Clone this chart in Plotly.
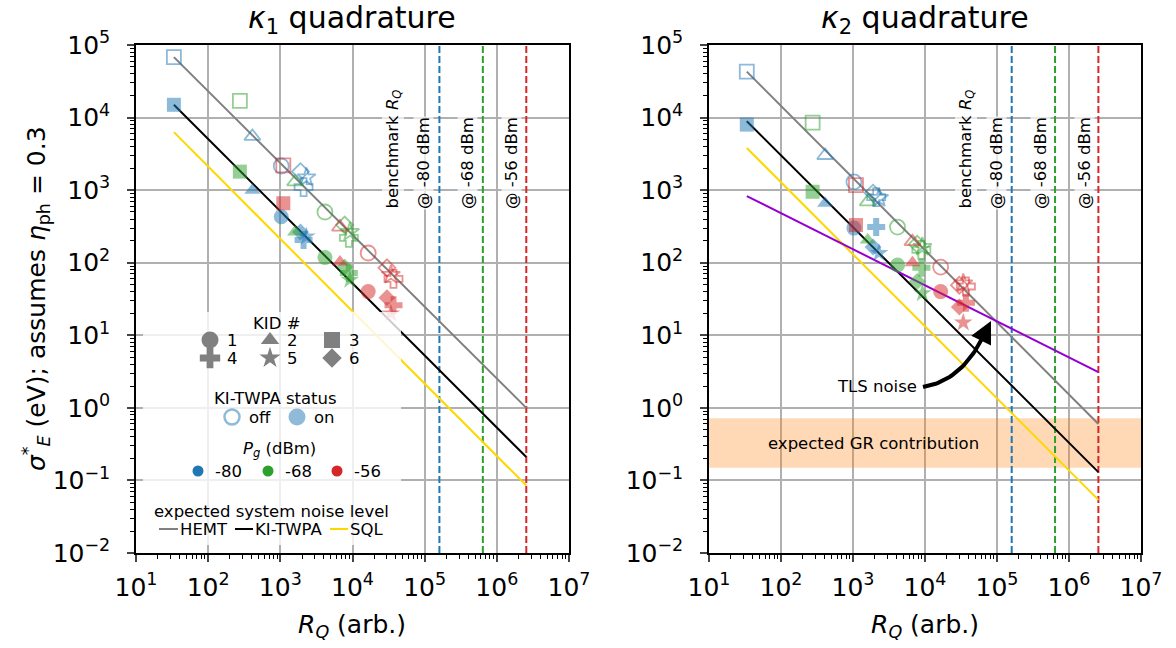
import numpy as np
import plotly.graph_objects as go

W, H = 1176, 648
FONT = "DejaVu Sans"

# ---------------- data ----------------
kid_labels = ["1", "2", "3", "4", "5", "6"]
kid_symbols = ["circle", "triangle-up", "square", "cross", "star", "diamond"]
pg_labels = ["-80", "-68", "-56"]
pg_colors = ["#1f77b4", "#2ca02c", "#d62728"]

# R_Q per KID (1..6) for each generator power
rq_m80 = [1.03e3, 410, 33.5, 2.1e3, 2.3e3, 1.9e3]
rq_m68 = [4.15e3, 1.6e3, 275, 8.9e3, 9.2e3, 7.8e3]
rq_m56 = [1.65e4, 6.7e3, 1.1e3, 3.7e4, 3.4e4, 3.0e4]

# kappa_1 quadrature sigma_E (eV), KID 1..6
k1_off_m80 = [2.15e3, 5.5e3, 6.8e4, 1.1e3, 1.5e3, 1.8e3]
k1_on_m80 = [430, 1.0e3, 1.5e4, 205, 230, 265]
k1_off_m68 = [500, 1.3e3, 1.7e4, 220, 265, 330]
k1_on_m68 = [118, 265, 1.8e3, 72, 58, 87]
k1_off_m56 = [136, 310, 2.2e3, 60, 68, 85]
k1_on_m56 = [40, 102, 660, 26, 20, 33]

# kappa_2 quadrature sigma_E (eV), KID 1..6
k2_off_m80 = [1.3e3, 3.0e3, 4.3e4, 800, 780, 910]
k2_on_m80 = [300, 660, 8.0e3, 310, 136, 165]
k2_off_m68 = [310, 690, 8.5e3, 150, 165, 180]
k2_on_m68 = [93, 205, 950, 85, 38, 55]
k2_off_m56 = [87, 195, 1.17e3, 47, 52, 49]
k2_on_m56 = [40, 100, 330, 28, 15, 24.5]

# expected system noise levels (end points)
line_rq = [33.5, 2.56e6]
k1_hemt = [6.8e4, 1.0]
k1_twpa = [1.5e4, 0.21]
k1_sql = [6.3e3, 0.085]
k2_hemt = [4.3e4, 0.6]
k2_twpa = [8.9e3, 0.13]
k2_sql = [3.8e3, 0.054]
k2_tls = [830, 3.1]

benchmark_rq = [1.6e5, 6.4e5, 2.56e6]
gr_band = [0.15, 0.72]

x_ticks = [1e1, 1e2, 1e3, 1e4, 1e5, 1e6, 1e7]
x_tick_text = ["10<sup>1</sup>", "10<sup>2</sup>", "10<sup>3</sup>", "10<sup>4</sup>",
               "10<sup>5</sup>", "10<sup>6</sup>", "10<sup>7</sup>"]
y_ticks = [1e-2, 1e-1, 1e0, 1e1, 1e2, 1e3, 1e4, 1e5]
y_tick_text = ["10<sup>−2</sup>", "10<sup>−1</sup>", "10<sup>0</sup>", "10<sup>1</sup>",
               "10<sup>2</sup>", "10<sup>3</sup>", "10<sup>4</sup>", "10<sup>5</sup>"]

# ---------------- figure ----------------
fig = go.Figure()

rq_sets = [rq_m80, rq_m68, rq_m56]
panels = [
    ("x", "y", [k1_off_m80, k1_off_m68, k1_off_m56], [k1_on_m80, k1_on_m68, k1_on_m56],
     k1_hemt, k1_twpa, k1_sql),
    ("x2", "y2", [k2_off_m80, k2_off_m68, k2_off_m56], [k2_on_m80, k2_on_m68, k2_on_m56],
     k2_hemt, k2_twpa, k2_sql),
]

marker_sizes = {"circle": 15, "triangle-up": 14, "square": 14, "cross": 15, "star": 14, "diamond": 13}

for xr, yr, offs, ons, hemt, twpa, sql in panels:
    if xr == "x2":
        fig.add_trace(go.Scatter(x=[1e1, 1e7, 1e7, 1e1, 1e1],
                                 y=[gr_band[0], gr_band[0], gr_band[1], gr_band[1], gr_band[0]],
                                 fill="toself", fillcolor="rgba(255,127,14,0.3)", mode="lines",
                                 line=dict(width=0), xaxis=xr, yaxis=yr, showlegend=False,
                                 hoverinfo="skip"))
    for rq_x, c in zip(benchmark_rq, pg_colors):
        fig.add_trace(go.Scatter(x=[rq_x, rq_x], y=[1e-2, 1e5], mode="lines",
                                 line=dict(color=c, width=2, dash="7px,3px"),
                                 xaxis=xr, yaxis=yr, showlegend=False, hoverinfo="skip"))
    for vals, c in [(hemt, "#808080"), (twpa, "black"), (sql, "gold")]:
        fig.add_trace(go.Scatter(x=line_rq, y=vals, mode="lines", line=dict(color=c, width=2),
                                 xaxis=xr, yaxis=yr, showlegend=False))
    if xr == "x2":
        fig.add_trace(go.Scatter(x=line_rq, y=k2_tls, mode="lines",
                                 line=dict(color="darkviolet", width=2),
                                 xaxis=xr, yaxis=yr, showlegend=False))
    for pi, c in enumerate(pg_colors):
        for ki, sym in enumerate(kid_symbols):
            sz = marker_sizes[sym]
            fig.add_trace(go.Scatter(
                x=[rq_sets[pi][ki]], y=[offs[pi][ki]], mode="markers",
                marker=dict(symbol=sym + "-open", size=sz, color=c, line=dict(width=1.8, color=c)),
                opacity=0.5, xaxis=xr, yaxis=yr, showlegend=False))
            fig.add_trace(go.Scatter(
                x=[rq_sets[pi][ki]], y=[ons[pi][ki]], mode="markers",
                marker=dict(symbol=sym, size=sz, color=c, line=dict(width=0)),
                opacity=0.5, xaxis=xr, yaxis=yr, showlegend=False))

# ---------------- overlay (pixel) layer for legend & arrow ----------------
annotations = []

def ptext(x, y, text, size=16.5, xanchor="center", angle=0, yanchor="middle", bg=None):
    d = dict(x=x, y=y, xref="x3", yref="y3", text=text, showarrow=False,
             font=dict(family=FONT, size=size, color="black"), xanchor=xanchor,
             yanchor=yanchor, textangle=angle, borderpad=0)
    if bg:
        d["bgcolor"] = bg
    annotations.append(d)

# legend background box
fig.add_trace(go.Scatter(x=[143, 401, 401, 143, 143], y=[312, 312, 545, 545, 312], fill="toself",
                         fillcolor="rgba(255,255,255,0.8)", mode="lines", line=dict(width=0),
                         xaxis="x3", yaxis="y3", showlegend=False, hoverinfo="skip"))

# KID legend
ptext(276, 323, "KID #")
kid_pos = [(210, 340), (270, 340), (332, 340), (210, 358), (270, 358), (332, 358)]
for (px, py), sym, lab in zip(kid_pos, kid_symbols, kid_labels):
    fig.add_trace(go.Scatter(x=[px], y=[py], mode="markers",
                             marker=dict(symbol=sym, size=marker_sizes[sym] + 2, color="#808080"),
                             xaxis="x3", yaxis="y3", showlegend=False))
    ptext(px + 16, py, lab, xanchor="left")

# status legend
ptext(275, 398, "KI-TWPA status")
fig.add_trace(go.Scatter(x=[232], y=[417], mode="markers",
                         marker=dict(symbol="circle-open", size=15, color="rgba(31,119,180,0.5)",
                                     line=dict(width=2.5, color="rgba(31,119,180,0.5)")),
                         xaxis="x3", yaxis="y3", showlegend=False))
ptext(248, 417, "off", xanchor="left")
fig.add_trace(go.Scatter(x=[297], y=[417], mode="markers",
                         marker=dict(symbol="circle", size=17, color="rgba(31,119,180,0.5)"),
                         xaxis="x3", yaxis="y3", showlegend=False))
ptext(313, 417, "on", xanchor="left")

# Pg legend
ptext(279, 449, "<i>P<sub>g</sub></i> (dBm)")
for px, c, lab in zip([198, 268, 337], pg_colors, pg_labels):
    fig.add_trace(go.Scatter(x=[px], y=[471], mode="markers",
                             marker=dict(symbol="circle", size=11, color=c),
                             xaxis="x3", yaxis="y3", showlegend=False))
    ptext(px + 16, 471, lab, xanchor="left")

# system noise legend
ptext(271, 511, "expected system noise level")
for (x0, x1), c, lab in zip([(159, 178), (235, 253), (330, 348)], ["#808080", "black", "gold"],
                            ["HEMT", "KI-TWPA", "SQL"]):
    fig.add_trace(go.Scatter(x=[x0, x1], y=[529, 529], mode="lines", line=dict(color=c, width=2),
                             xaxis="x3", yaxis="y3", showlegend=False))
    ptext(x1 + 1, 529, lab, xanchor="left")

# TLS curved arrow
t = np.linspace(0, 1, 30)
p0, p1, p2 = np.array([923, 387]), np.array([961, 381]), np.array([983, 337])
curve = ((1 - t) ** 2)[:, None] * p0 + (2 * (1 - t) * t)[:, None] * p1 + (t ** 2)[:, None] * p2
fig.add_trace(go.Scatter(x=curve[:, 0], y=curve[:, 1], mode="lines", line=dict(color="black", width=4),
                         xaxis="x3", yaxis="y3", showlegend=False))
annotations.append(dict(x=991, y=321, xref="x3", yref="y3", ax=982, ay=339, axref="x3", ayref="y3",
                        text="", showarrow=True, arrowhead=2, arrowsize=1.1, arrowwidth=4,
                        arrowcolor="black"))
ptext(877, 386, "TLS noise")
ptext(873, 443, "expected GR contribution")

# benchmark texts (both panels)
for x0 in [0, 573]:
    ptext(393 + x0, 210, "benchmark <i>R<sub>Q</sub></i>", angle=-90, yanchor="bottom",
          bg="rgba(255,255,255,0.7)")
    for dx, lab in zip([423, 467, 511], pg_labels):
        ptext(dx + x0, 210, "@ " + lab + " dBm", angle=-90, yanchor="bottom",
              bg="rgba(255,255,255,0.7)")

# titles & axis titles
ptext(352, 19, "<i>κ</i><sub>1</sub> quadrature", size=30)
ptext(925, 19, "<i>κ</i><sub>2</sub> quadrature", size=30)
ptext(352, 626, "<i>R<sub>Q</sub></i> (arb.)", size=25)
ptext(925, 626, "<i>R<sub>Q</sub></i> (arb.)", size=25)
ptext(36, 299, "<i>σ</i><sup>*</sup><sub><i>E</i></sub> (eV); assumes <i>η</i><sub>ph</sub> = 0.3",
      size=25, angle=-90)

# ---------------- axes ----------------
minor_x = [k * 10.0 ** n for n in range(1, 7) for k in range(2, 10)]
minor_y = [k * 10.0 ** n for n in range(-2, 5) for k in range(2, 10)]

def xax(domain, anchor):
    return dict(type="log", range=[1, 7], domain=domain, anchor=anchor,
                tickvals=x_ticks, ticktext=x_tick_text, ticks="outside", ticklen=7, tickwidth=1.5,
                ticklabelstandoff=4,
                tickfont=dict(family=FONT, size=25, color="black"),
                showgrid=True, gridcolor="#b0b0b0", gridwidth=2, zeroline=False,
                showline=True, linecolor="black", linewidth=1.5, mirror=True,
                minor=dict(tickvals=minor_x, ticks="outside", ticklen=4, tickwidth=1,
                           tickcolor="black", showgrid=False))

def yax(anchor):
    return dict(type="log", range=[-2, 5], domain=[1 - 553 / H, 1 - 45 / H], anchor=anchor,
                tickvals=y_ticks, ticktext=y_tick_text, ticks="outside", ticklen=7, tickwidth=1.5,
                ticklabelstandoff=12,
                tickfont=dict(family=FONT, size=25, color="black"),
                showgrid=True, gridcolor="#b0b0b0", gridwidth=2, zeroline=False,
                showline=True, linecolor="black", linewidth=1.5, mirror=True,
                minor=dict(tickvals=minor_y, ticks="outside", ticklen=4, tickwidth=1,
                           tickcolor="black", showgrid=False))

fig.update_layout(
    width=W, height=H,
    margin=dict(l=0, r=0, t=0, b=0, pad=0, autoexpand=False),
    paper_bgcolor="white", plot_bgcolor="rgba(0,0,0,0)",
    font=dict(family=FONT, color="black"),
    showlegend=False,
    xaxis=xax([136 / W, 569 / W], "y"),
    yaxis=yax("x"),
    xaxis2=xax([709 / W, 1141 / W], "y2"),
    yaxis2=yax("x2"),
    xaxis3=dict(domain=[0, 1], range=[0, W], visible=False, anchor="y3", fixedrange=True),
    yaxis3=dict(domain=[0, 1], range=[H, 0], visible=False, anchor="x3", fixedrange=True),
    annotations=annotations,
)

fig.write_html("out.html")
